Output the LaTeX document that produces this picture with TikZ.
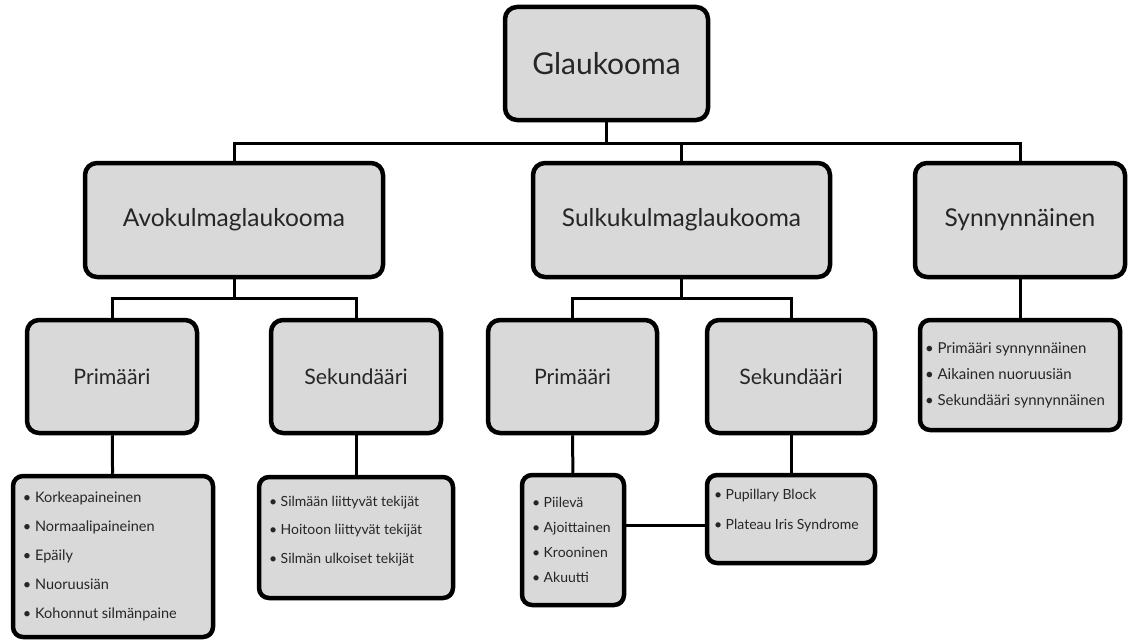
\documentclass[tikz,border=0pt]{standalone}
\usepackage{fontspec}
\setmainfont{Lato}
\usetikzlibrary{positioning,shadows}
\definecolor{boxgray}{RGB}{217,217,217}
\definecolor{txtgray}{RGB}{38,38,38}
\newcommand{\fs}[1]{\fontsize{#1}{1.2\dimexpr#1pt\relax}\selectfont}
\begin{document}
\begin{tikzpicture}
  [x=1pt,y=-1pt,
   boxN/.style={draw,line width=4.5pt,fill=boxgray,rounded corners=12pt,
     text=txtgray,drop shadow={shadow xshift=1.5pt,shadow yshift=-2pt,opacity=0.25}},
   topN/.style={boxN,minimum width=203pt,minimum height=113pt,font=\fs{30}},
   mainN/.style={boxN,minimum height=114pt,font=\fs{24.5}},
   subN/.style={boxN,minimum height=113pt,font=\fs{21.3}},
   listN/.style={boxN,rounded corners=10pt,inner xsep=10pt,inner ysep=0pt,align=left},
   link/.style={line width=3pt},
  ]
 \useasboundingbox (0,0) rectangle (1128,642);

 % top
 \node[topN] (glau) at (606.5,63.5) {Glaukooma};

 % main groups
 \node[mainN,minimum width=298pt] (avo)   at (234,220)    {Avokulmaglaukooma};
 \node[mainN,minimum width=297pt] (sulku) at (681.5,220)  {Sulkukulmaglaukooma};
 \node[mainN,minimum width=210pt] (syn)   at (1020,220)   {Synnynnäinen};

 % second level
 \node[subN,minimum width=170pt] (apri) at (112,376.5) {Primääri};
 \node[subN,minimum width=170pt] (asek) at (356,376.5) {Sekundääri};
 \node[subN,minimum width=169pt] (spri) at (572.5,376.5) {Primääri};
 \node[subN,minimum width=168pt] (ssek) at (791,376.5) {Sekundääri};

 % lists
 \node[listN,font=\fontsize{14.5}{29}\selectfont] (aplist) at (113,556.5)
   {\parbox[c][161pt][c]{180pt}{\raggedright
    \textbullet\ Korkeapaineinen\\ \textbullet\ Normaalipaineinen\\
    \textbullet\ Epäily\\ \textbullet\ Nuoruusiän\\ \textbullet\ Kohonnut silmänpaine}};
 \node[listN,font=\fontsize{14}{28.5}\selectfont] (aslist) at (356,537.5)
   {\parbox[c][121pt][t]{174pt}{\raggedright\vspace*{19pt}
    \textbullet\ Silmään liittyvät tekijät\\ \textbullet\ Hoitoon liittyvät tekijät\\
    \textbullet\ Silmän ulkoiset tekijät}};
 \node[listN,font=\fontsize{14}{25}\selectfont] (splist) at (573,540)
   {\parbox[c][130pt][c]{82pt}{\raggedright
    \textbullet\ Piilevä\\ \textbullet\ Ajoittainen\\
    \textbullet\ Krooninen\\ \textbullet\ Akuutti}};
 \node[listN,inner xsep=7pt,font=\fontsize{14}{30}\selectfont] (sslist) at (791,519)
   {\parbox[c][88pt][t]{154pt}{\raggedright\vspace*{14pt}
    \textbullet\ Pupillary Block\\ \textbullet\ Plateau Iris Syndrome}};
 \node[listN,inner xsep=5pt,font=\fontsize{15}{26}\selectfont] (synlist) at (1020,375)
   {\parbox[c][110pt][c]{190pt}{\raggedright
    \textbullet\ Primääri synnynnäinen\\ \textbullet\ Aikainen nuoruusiän\\
    \textbullet\ Sekundääri synnynnäinen}};

 % connectors
 \coordinate (bar) at (606.5,143);
 \coordinate (abar) at (234,298);
 \coordinate (sbar) at (681.5,298);
 \begin{scope}[link]
  \draw (glau) -- (bar);
  \draw (bar) -| (avo);
  \draw (bar) -| (sulku);
  \draw (bar) -| (syn);
  \draw (avo) -- (abar);
  \draw (abar) -| (apri);
  \draw (abar) -| (asek);
  \draw (sulku) -- (sbar);
  \draw (sbar) -| (spri);
  \draw (sbar) -| (ssek);
  \draw (apri) -- (aplist);
  \draw (asek) -- (aslist);
  \draw (spri) -- (splist);
  \draw (ssek) -- (sslist);
  \draw (syn) -- (synlist);
  \draw ([yshift=-6pt]sslist.west) -- ([yshift=-6pt]sslist.west -| splist.east);
 \end{scope}
\end{tikzpicture}
\end{document}
